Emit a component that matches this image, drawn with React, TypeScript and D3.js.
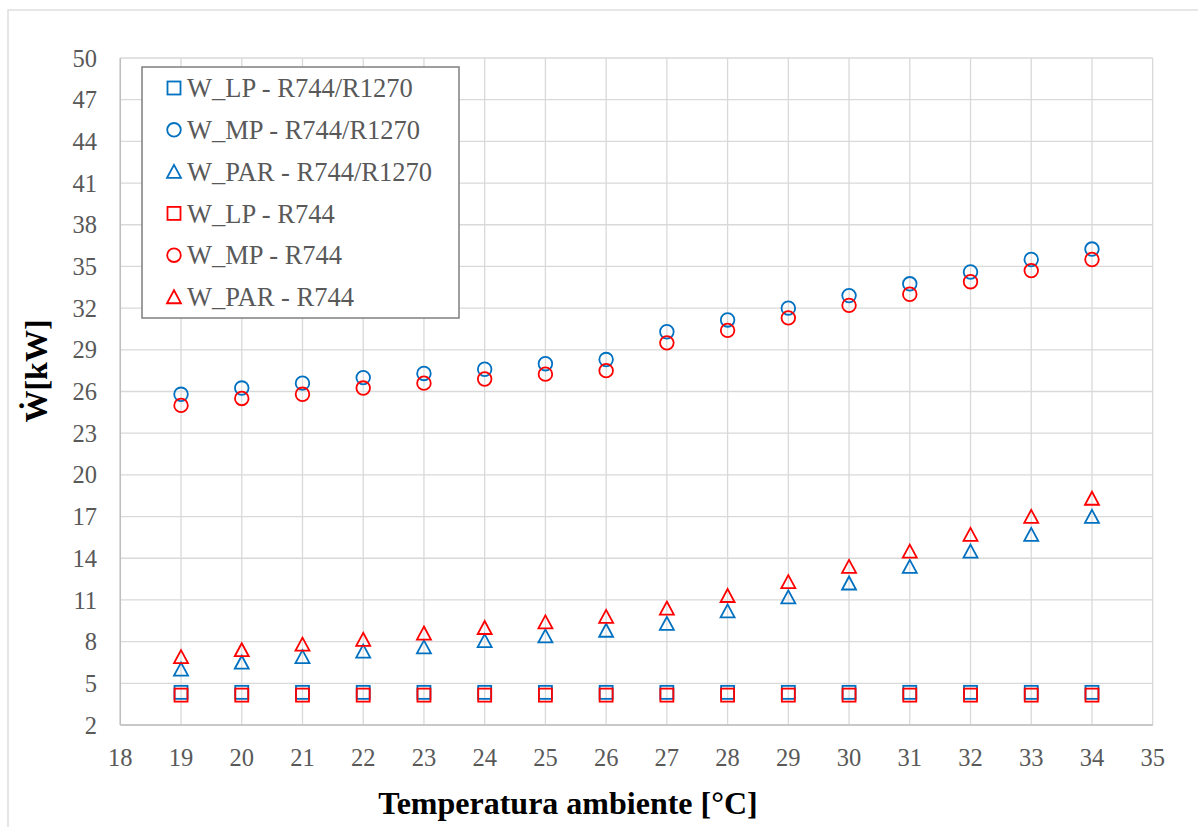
import React from "react";
import * as d3 from "d3";

const temps = [19, 20, 21, 22, 23, 24, 25, 26, 27, 28, 29, 30, 31, 32, 33, 34];
const wLP_mix = [4.35, 4.35, 4.35, 4.35, 4.35, 4.35, 4.35, 4.35, 4.35, 4.35, 4.35, 4.35, 4.35, 4.35, 4.35, 4.35];
const wMP_mix = [25.8, 26.25, 26.6, 27.0, 27.3, 27.6, 28.0, 28.3, 30.3, 31.15, 32.0, 32.9, 33.75, 34.6, 35.5, 36.25];
const wPAR_mix = [6.0, 6.5, 6.9, 7.3, 7.6, 8.05, 8.4, 8.8, 9.3, 10.2, 11.2, 12.2, 13.4, 14.5, 15.7, 17.0];
const wLP_r744 = [4.15, 4.15, 4.15, 4.15, 4.15, 4.15, 4.15, 4.15, 4.15, 4.15, 4.15, 4.15, 4.15, 4.15, 4.15, 4.15];
const wMP_r744 = [25.0, 25.5, 25.8, 26.25, 26.6, 26.9, 27.25, 27.5, 29.5, 30.4, 31.3, 32.2, 33.0, 33.9, 34.7, 35.5];
const wPAR_r744 = [6.9, 7.4, 7.8, 8.15, 8.6, 9.0, 9.4, 9.8, 10.4, 11.3, 12.3, 13.4, 14.5, 15.7, 17.0, 18.3];

const xTicks = d3.range(18, 36, 1);
const yTicks = d3.range(2, 51, 3);

const BLUE = "#0070C0";
const RED = "#FF0000";

const seriesList = [
  { name: "W_LP - R744/R1270", values: wLP_mix, color: BLUE, shape: "square" },
  { name: "W_MP - R744/R1270", values: wMP_mix, color: BLUE, shape: "circle" },
  { name: "W_PAR - R744/R1270", values: wPAR_mix, color: BLUE, shape: "triangle" },
  { name: "W_LP - R744", values: wLP_r744, color: RED, shape: "square" },
  { name: "W_MP - R744", values: wMP_r744, color: RED, shape: "circle" },
  { name: "W_PAR - R744", values: wPAR_r744, color: RED, shape: "triangle" },
];

function Marker({ shape, x, y, color }: { shape: string; x: number; y: number; color: string }) {
  const sw = 1.8;
  if (shape === "square") {
    return <rect x={x - 6.5} y={y - 6.5} width={13} height={13} fill="none" stroke={color} strokeWidth={sw} />;
  }
  if (shape === "circle") {
    return <circle cx={x} cy={y} r={6.8} fill="none" stroke={color} strokeWidth={sw} />;
  }
  const h = 12.5;
  const w = 14;
  const pts = `${x},${y - h / 2 - 0.5} ${x + w / 2},${y + h / 2} ${x - w / 2},${y + h / 2}`;
  return <polygon points={pts} fill="none" stroke={color} strokeWidth={sw} strokeLinejoin="miter" />;
}

export default function App() {
  const W = 1198;
  const H = 827;
  const left = 120.3;
  const right = 1152.7;
  const top = 58;
  const bottom = 725;
  const x = d3.scaleLinear().domain([18, 35]).range([left, right]);
  const y = d3.scaleLinear().domain([2, 50]).range([bottom, top]);
  const font = "'Liberation Serif', 'Times New Roman', serif";
  const tickColor = "#595959";

  const legX = 142;
  const legY = 67;
  const legW = 317;
  const legH = 251;
  const rowH = 41.8;

  return (
    <svg width={W} height={H} style={{ position: "absolute", left: 0, top: 0, display: "block" }} fontFamily={font}>
      <rect x={0} y={0} width={W} height={H} fill="#fff" />
      <rect x={8} y={10} width={1200} height={830} fill="none" stroke="#d9d9d9" strokeWidth={1.3} />
      {yTicks.map((t) => (
        <line key={"gy" + t} x1={left} x2={right} y1={y(t)} y2={y(t)} stroke="#d9d9d9" strokeWidth={1.3} />
      ))}
      {xTicks.map((t) => (
        <line key={"gx" + t} x1={x(t)} x2={x(t)} y1={top} y2={bottom} stroke="#d9d9d9" strokeWidth={1.3} />
      ))}
      <line x1={left} x2={right} y1={bottom} y2={bottom} stroke="#bfbfbf" strokeWidth={1.5} />
      <line x1={left} x2={left} y1={top} y2={bottom} stroke="#bfbfbf" strokeWidth={1.5} />
      {yTicks.map((t) => (
        <text key={"ty" + t} x={97} y={y(t)} dy="0.35em" textAnchor="end" fontSize={24.5} fill={tickColor}>
          {t}
        </text>
      ))}
      {xTicks.map((t) => (
        <text key={"tx" + t} x={x(t)} y={757} dy="0.35em" textAnchor="middle" fontSize={24.5} fill={tickColor}>
          {t}
        </text>
      ))}
      {seriesList.map((s, si) => (
        <g key={"s" + si}>
          {s.values.map((v, i) => (
            <Marker key={i} shape={s.shape} x={x(temps[i])} y={y(v)} color={s.color} />
          ))}
        </g>
      ))}
      <rect x={legX} y={legY} width={legW} height={legH} fill="#fff" stroke="#7f7f7f" strokeWidth={1.5} />
      {seriesList.map((s, i) => {
        const cy = legY + 21 + i * rowH;
        return (
          <g key={"l" + i}>
            <Marker shape={s.shape} x={174} y={cy} color={s.color} />
            <text x={187} y={cy} dy="0.35em" fontSize={26.5} fill={tickColor}>
              {s.name}
            </text>
          </g>
        );
      })}
      <text x={568} y={803} dy="0.35em" textAnchor="middle" fontSize={32} fontWeight="bold" fill="#000">
        Temperatura ambiente [°C]
      </text>
      <text
        transform={`translate(36,371) rotate(-90)`}
        textAnchor="middle"
        dy="0.35em"
        fontSize={32}
        fontWeight="bold"
        fill="#000"
      >
        Ẇ[kW]
      </text>
    </svg>
  );
}
